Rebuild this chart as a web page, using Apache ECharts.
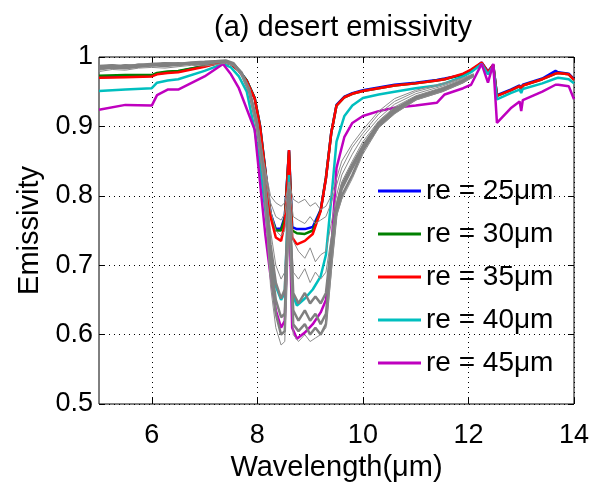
<!DOCTYPE html>
<html><head><meta charset="utf-8">
<script src="https://cdn.jsdelivr.net/npm/echarts@6/dist/echarts.min.js"></script>
<style>html,body{margin:0;padding:0;background:#fff}#c{width:596px;height:491px}</style>
</head><body><div id="c"></div>
<script>
const titleText = '(a) desert emissivity';
const xName = 'Wavelength(μm)';
const yName = 'Emissivity';
const xTicks = [6, 8, 10, 12, 14];
const legendNames = ['re = 25μm', 're = 30μm', 're = 35μm', 're = 40μm', 're = 45μm'];
const colors = ['#0000ff', '#008000', '#ff0000', '#00bfbf', '#bf00bf'];

const wl = [5.0, 5.5, 6.0, 6.1, 6.3, 6.5, 7.0, 7.35, 7.5, 7.65, 7.8, 7.95, 8.05, 8.15, 8.25, 8.35, 8.45, 8.52, 8.6, 8.66, 8.75, 8.9, 9.05, 9.2, 9.3, 9.4, 9.5, 9.65, 9.8, 10.0, 10.3, 10.6, 11.0, 11.4, 11.55, 11.9, 12.05, 12.25, 12.37, 12.47, 12.54, 12.8, 12.97, 13.0, 13.03, 13.4, 13.65, 13.7, 13.9, 14.0];

const re25 = [.971,.972,.973,.976,.978,.979,.987,.993,.990,.981, .966,.941,.902,.838,.775,.752,.753,.770,.866,.755, .752,.752,.755,.780,.826,.891,.931,.943,.948,.952, .956,.960,.963,.967,.969,.974,.980,.992,.979,.989, .945,.953,.959,.954,.960,.969,.980,.978,.976,.968];
const re30 = [.973,.974,.974,.977,.979,.980,.987,.993,.990,.981, .966,.941,.901,.837,.773,.750,.750,.768,.864,.750, .746,.745,.750,.779,.826,.890,.930,.942,.947,.951, .955,.959,.962,.966,.968,.975,.981,.991,.978,.988, .944,.952,.958,.953,.959,.968,.976,.977,.975,.967];
const re35 = [.970,.971,.972,.975,.977,.978,.986,.993,.990,.980, .965,.940,.900,.835,.770,.740,.735,.760,.866,.740, .730,.735,.745,.778,.825,.890,.930,.942,.947,.951, .955,.959,.962,.966,.968,.976,.982,.992,.978,.989, .944,.952,.958,.953,.959,.968,.976,.977,.975,.967];
const re40 = [.951,.953,.955,.963,.966,.968,.980,.990,.985,.972, .950,.895,.845,.780,.715,.670,.650,.660,.830,.660, .642,.652,.665,.684,.715,.795,.878,.915,.930,.941, .946,.950,.955,.959,.962,.972,.978,.990,.975,.987, .939,.948,.953,.948,.954,.962,.969,.970,.968,.962];
const re45 = [.924,.931,.930,.945,.953,.953,.972,.990,.975,.955, .925,.895,.820,.745,.685,.635,.610,.620,.800,.610, .594,.603,.615,.632,.650,.720,.840,.885,.905,.915, .922,.927,.930,.934,.946,.955,.960,.990,.963,.990, .905,.926,.936,.922,.938,.950,.960,.960,.958,.939];

const wlGray = [5.0, 5.25, 5.5, 5.75, 6.0, 6.25, 6.5, 6.75, 7.0, 7.2, 7.4, 7.55, 7.7, 7.85, 8.0, 8.12, 8.25, 8.35, 8.45, 8.52, 8.6, 8.68, 8.78, 8.9, 9.0, 9.1, 9.2, 9.3, 9.4, 9.5, 9.6, 9.8, 10.0, 10.3, 10.6, 11.0, 11.5, 11.9, 12.1];

const gray1 = [0.984,0.987,0.985,0.988,0.990,0.988,0.990,0.992,0.991,0.993,0.994,0.990, 0.978,0.955,0.910,0.850, 0.800,0.790,0.785,0.790,0.820,0.795,0.790,0.795,0.785,0.790,0.780,0.785,0.800,0.825, 0.850,0.875,0.895,0.922,0.940,0.952,0.962,0.970,0.976];
const gray2 = [0.988,0.985,0.989,0.987,0.991,0.990,0.988,0.991,0.993,0.992,0.995,0.991, 0.979,0.956,0.908,0.848, 0.790,0.770,0.765,0.775,0.820,0.770,0.765,0.760,0.770,0.760,0.765,0.770,0.790,0.815, 0.840,0.870,0.890,0.918,0.936,0.950,0.960,0.969,0.975];
const gray3 = [0.981,0.984,0.983,0.986,0.987,0.989,0.987,0.990,0.989,0.992,0.993,0.988, 0.976,0.952,0.905,0.845, 0.780,0.750,0.742,0.750,0.810,0.735,0.720,0.710,0.725,0.705,0.715,0.720,0.760,0.800, 0.830,0.860,0.885,0.912,0.932,0.947,0.958,0.968,0.975];
const gray4 = [0.986,0.989,0.987,0.990,0.988,0.992,0.991,0.989,0.992,0.994,0.992,0.989, 0.977,0.953,0.903,0.840, 0.750,0.700,0.680,0.690,0.800,0.690,0.680,0.695,0.675,0.690,0.680,0.690,0.740,0.790, 0.820,0.850,0.878,0.908,0.928,0.944,0.956,0.967,0.974];
const gray5 = [0.985,0.986,0.988,0.987,0.989,0.990,0.991,0.990,0.992,0.993,0.994,0.990, 0.978,0.952,0.900,0.835, 0.730,0.675,0.652,0.665,0.810,0.660,0.645,0.660,0.645,0.655,0.645,0.660,0.730,0.785, 0.815,0.845,0.872,0.905,0.925,0.942,0.954,0.966,0.974];
const gray6 = [0.983,0.985,0.984,0.986,0.988,0.987,0.989,0.991,0.990,0.992,0.993,0.989, 0.975,0.950,0.898,0.830, 0.710,0.650,0.625,0.630,0.800,0.635,0.620,0.635,0.620,0.630,0.615,0.630,0.710,0.780, 0.810,0.840,0.868,0.902,0.922,0.940,0.952,0.965,0.973];
const gray7 = [0.987,0.988,0.986,0.989,0.990,0.991,0.990,0.992,0.993,0.994,0.995,0.991, 0.976,0.949,0.895,0.825, 0.690,0.630,0.600,0.605,0.790,0.615,0.605,0.615,0.600,0.610,0.600,0.615,0.700,0.775, 0.800,0.830,0.865,0.900,0.920,0.939,0.951,0.964,0.973];
const gray8 = [0.979,0.982,0.981,0.984,0.985,0.984,0.986,0.988,0.987,0.989,0.991,0.987, 0.974,0.948,0.893,0.820, 0.670,0.610,0.585,0.590,0.780,0.600,0.590,0.600,0.590,0.595,0.600,0.610,0.690,0.770, 0.795,0.825,0.860,0.898,0.918,0.938,0.950,0.963,0.972];

const colored = [re25, re30, re35, re40, re45];
const grays = [gray1, gray2, gray3, gray4, gray5, gray6, gray7, gray8];
const grayThick = [false, false, false, false, true, true, true, false];

const FONT = 'Liberation Sans';
const series = [];
colored.forEach((arr, i) => {
  series.push({
    name: legendNames[i], type: 'line', showSymbol: false, silent: true,
    data: wl.map((x, j) => [x, arr[j]]),
    lineStyle: { color: colors[i], width: 2.5 }, itemStyle: { color: colors[i] },
    z: 2 + i
  });
});
grays.forEach((arr, i) => {
  series.push({
    name: 'gray' + (i + 1), type: 'line', showSymbol: false, silent: true,
    data: wlGray.map((x, j) => [x, arr[j]]),
    lineStyle: { color: grayThick[i] ? '#808080' : '#8c8c8c', width: grayThick[i] ? 2.5 : 1 },
    z: 10 + i
  });
});

const tickStyle = { show: true, inside: true, length: 6, lineStyle: { color: '#000', width: 1 } };
const chart = echarts.init(document.getElementById('c'), null, { renderer: 'canvas' });
chart.setOption({
  animation: false,
  backgroundColor: '#fff',
  title: {
    text: titleText, left: 338, top: 8, textAlign: 'center',
    textStyle: { fontFamily: FONT, fontSize: 29, fontWeight: 'normal', color: '#000' }
  },
  grid: { left: 99, right: 22, top: 57, bottom: 87, show: true, borderColor: '#000', borderWidth: 1, backgroundColor: 'transparent' },
  legend: {
    data: legendNames, orient: 'vertical', left: 373, top: 171,
    icon: 'rect', itemWidth: 43, itemHeight: 3, itemGap: 13, selectedMode: false,
    textStyle: { fontFamily: FONT, fontSize: 28, color: '#000', lineHeight: 30 }
  },
  xAxis: [{
    type: 'value', min: 5, max: 14,
    name: xName, nameLocation: 'middle', nameGap: 46,
    nameTextStyle: { fontFamily: FONT, fontSize: 29, color: '#000' },
    axisLine: { show: false },
    axisTick: Object.assign({ customValues: xTicks }, tickStyle),
    axisLabel: { customValues: xTicks, fontFamily: FONT, fontSize: 27, color: '#000', margin: 18 },
    splitLine: { show: true, lineStyle: { color: '#000', type: [1, 4], width: 1 } }
  }, {
    type: 'value', min: 5, max: 14, position: 'top',
    axisLine: { show: false },
    axisTick: Object.assign({ customValues: xTicks }, tickStyle),
    axisLabel: { show: false }, splitLine: { show: false }
  }],
  yAxis: [{
    type: 'value', min: 0.5, max: 1, interval: 0.1,
    name: yName, nameLocation: 'middle', nameGap: 48,
    nameTextStyle: { fontFamily: FONT, fontSize: 29, color: '#000' },
    axisLine: { show: false },
    axisTick: tickStyle,
    axisLabel: { fontFamily: FONT, fontSize: 27, color: '#000', margin: 6 },
    splitLine: { show: true, lineStyle: { color: '#000', type: [1, 4], width: 1 } }
  }, {
    type: 'value', min: 0.5, max: 1, interval: 0.1, position: 'right',
    axisLine: { show: false }, axisTick: tickStyle,
    axisLabel: { show: false }, splitLine: { show: false }
  }],
  series: series
});
</script></body></html>
